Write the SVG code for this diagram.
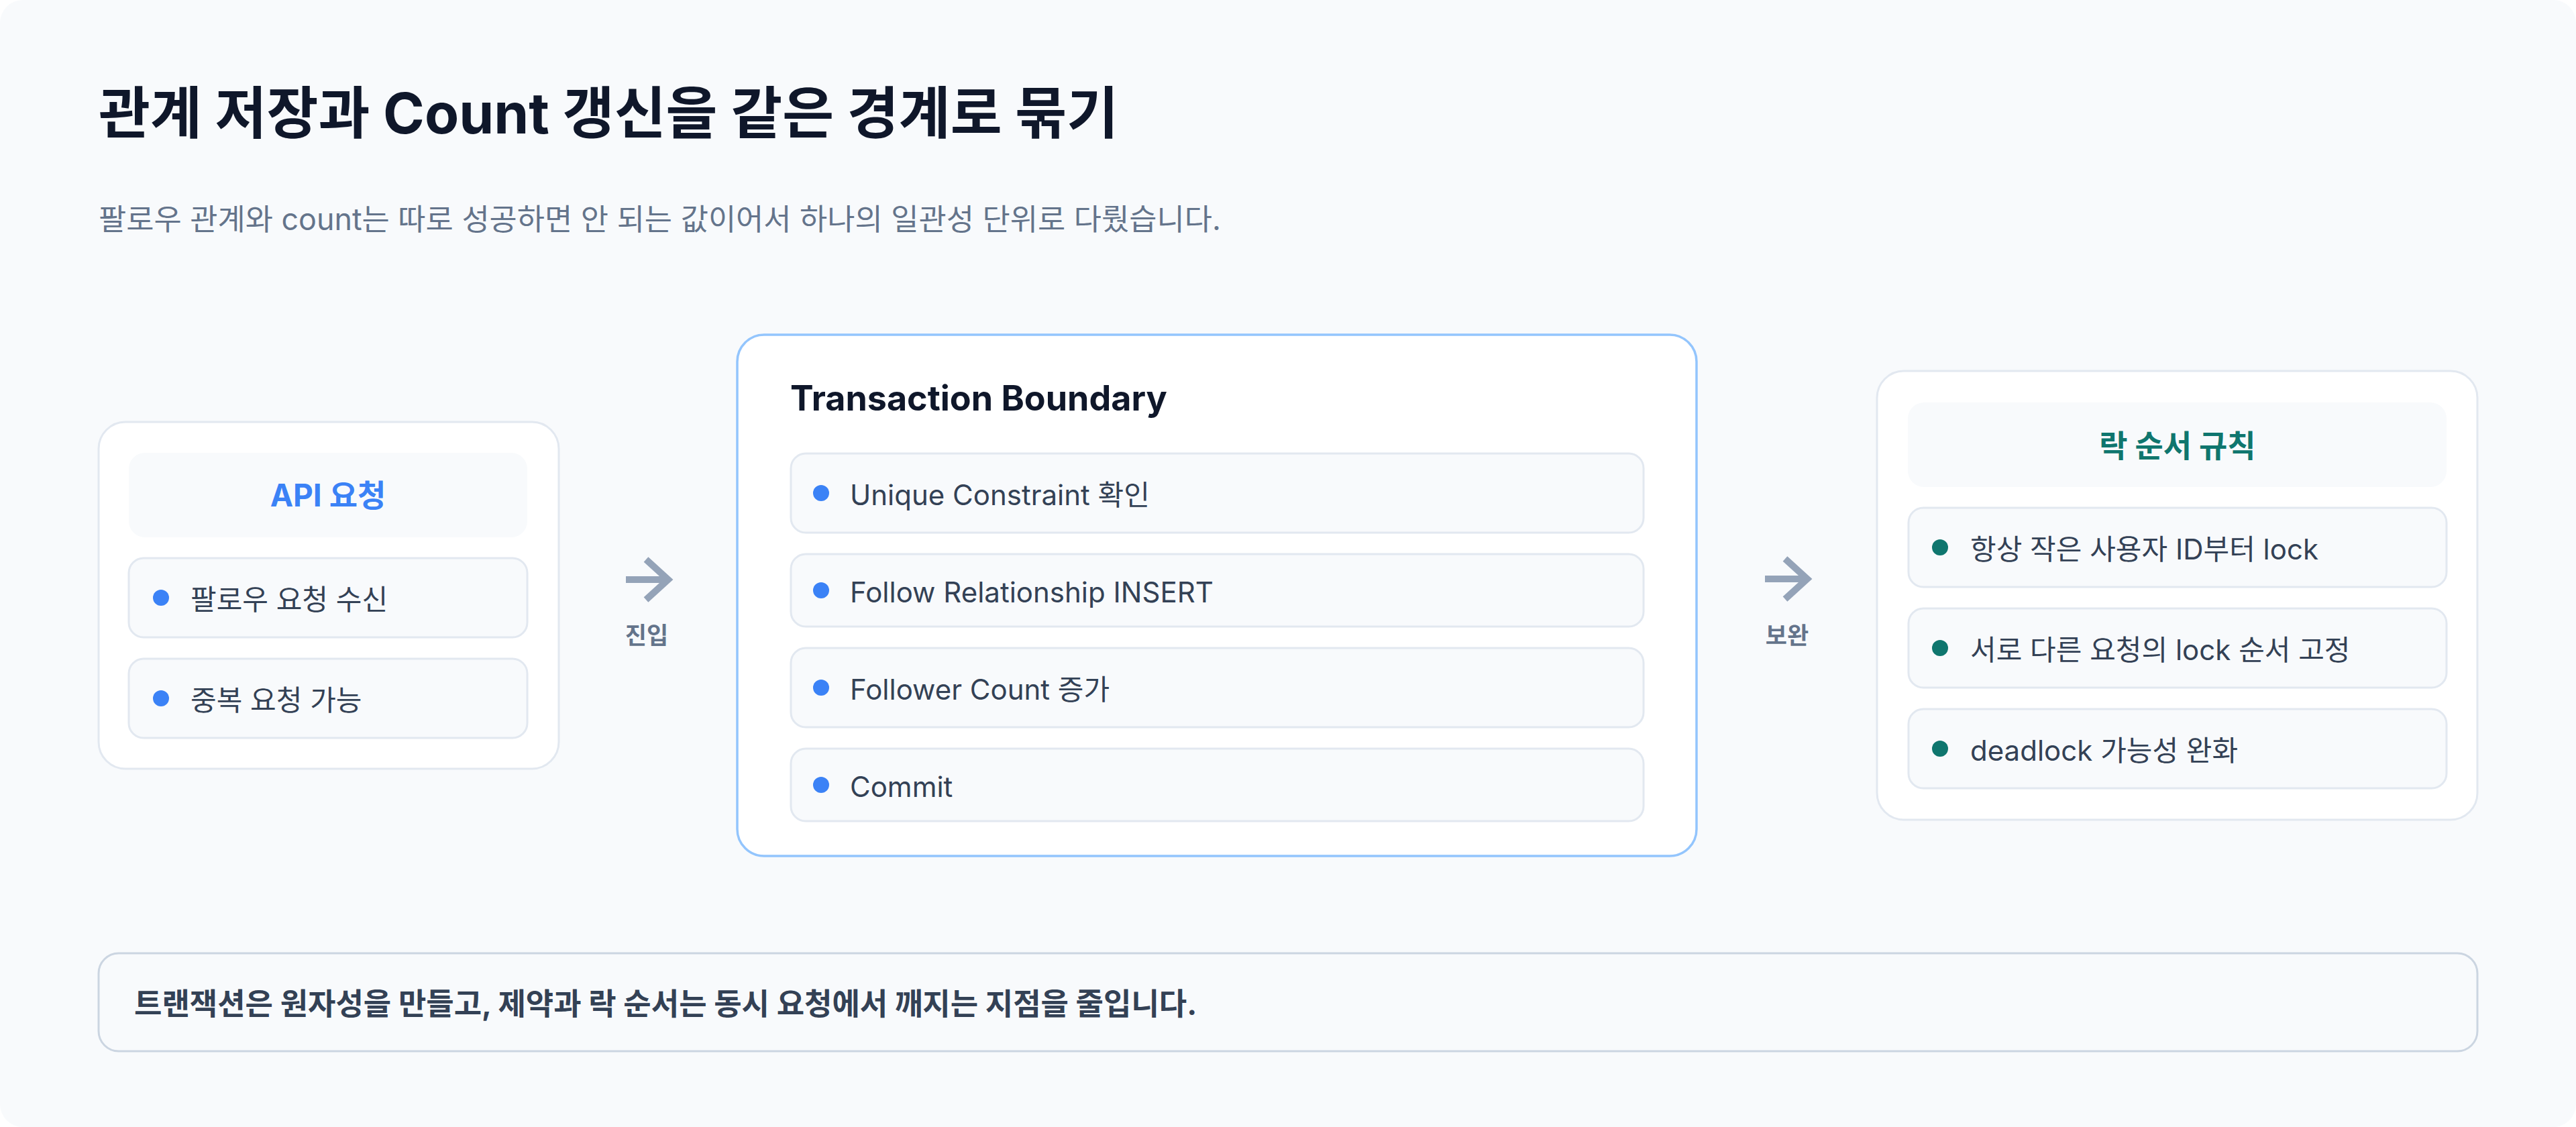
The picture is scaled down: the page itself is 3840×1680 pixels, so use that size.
<svg xmlns="http://www.w3.org/2000/svg" width="3840" height="1680" viewBox="0 0 3840 1680">
<style>
text{font-family:Inter,"Noto Sans CJK KR","Noto Sans",sans-serif}
.title{font-size:83.6px;font-weight:700;fill:#0f172a}
.sub{font-size:44.8px;fill:#64748b}
.card{fill:#ffffff;stroke:#e2e8f0;stroke-width:3}
.card-hl{fill:#ffffff;stroke:#93c5fd;stroke-width:3.5}
.head{fill:#f8fafc}
.item{fill:#f8fafc;stroke:#e2e8f0;stroke-width:3}
.it{font-size:42px;fill:#334155}
.hb{font-size:46px;font-weight:700;text-anchor:middle}
.dotb{fill:#3b82f6}
.dotg{fill:#0f766e}
.arrow{fill:none;stroke:#94a3b8;stroke-width:10}
.lbl{font-size:35px;font-weight:600;fill:#64748b;text-anchor:middle}
.foot{fill:#f8fafc;stroke:#cbd5e1;stroke-width:3}
.ft{font-size:45px;font-weight:700;fill:#334155}
</style>
<rect x="0" y="0" width="3840" height="1680" fill="#ffffff"/>
<rect x="0" y="0" width="3840" height="1680" rx="34" fill="#f8fafc"/>
<text class="title" x="147" y="199">관계 저장과 Count 갱신을 같은 경계로 묶기</text>
<text class="sub" x="147" y="343">팔로우 관계와 count는 따로 성공하면 안 되는 값이어서 하나의 일관성 단위로 다뤘습니다.</text>

<g id="node-api">
<rect class="card" x="147" y="629" width="686" height="517" rx="40"/>
<rect class="head" x="192" y="675" width="594" height="126" rx="24"/>
<text class="hb" x="489" y="755" fill="#3b82f6">API 요청</text>
<rect class="item" x="192" y="832" width="594" height="118" rx="22"/>
<circle class="dotb" cx="240" cy="891" r="12"/>
<text class="it" x="284" y="909">팔로우 요청 수신</text>
<rect class="item" x="192" y="982" width="594" height="118" rx="22"/>
<circle class="dotb" cx="240" cy="1041" r="12"/>
<text class="it" x="284" y="1059">중복 요청 가능</text>
</g>

<g id="node-tx">
<rect class="card-hl" x="1099" y="499" width="1430" height="777" rx="40"/>
<text x="1178" y="612" font-size="52" font-weight="700" fill="#0f172a">Transaction Boundary</text>
<rect class="item" x="1179" y="676" width="1271" height="118" rx="22"/>
<circle class="dotb" cx="1224" cy="735" r="12"/>
<text class="it" x="1267" y="753">Unique Constraint 확인</text>
<rect class="item" x="1179" y="826" width="1271" height="108" rx="22"/>
<circle class="dotb" cx="1224" cy="880" r="12"/>
<text class="it" x="1267" y="898">Follow Relationship INSERT</text>
<rect class="item" x="1179" y="966" width="1271" height="118" rx="22"/>
<circle class="dotb" cx="1224" cy="1025" r="12"/>
<text class="it" x="1267" y="1043">Follower Count 증가</text>
<rect class="item" x="1179" y="1116" width="1271" height="108" rx="22"/>
<circle class="dotb" cx="1224" cy="1170" r="12"/>
<text class="it" x="1267" y="1188">Commit</text>
</g>

<g id="node-lock">
<rect class="card" x="2798" y="553" width="895" height="669" rx="40"/>
<rect class="head" x="2844" y="600" width="803" height="126" rx="24"/>
<text class="hb" x="3246" y="681" fill="#0f766e">락 순서 규칙</text>
<rect class="item" x="2845" y="757" width="802" height="118" rx="22"/>
<circle class="dotg" cx="2892" cy="816" r="12"/>
<text class="it" x="2937" y="834">항상 작은 사용자 ID부터 lock</text>
<rect class="item" x="2845" y="907" width="802" height="118" rx="22"/>
<circle class="dotg" cx="2892" cy="966" r="12"/>
<text class="it" x="2937" y="984">서로 다른 요청의 lock 순서 고정</text>
<rect class="item" x="2845" y="1057" width="802" height="118" rx="22"/>
<circle class="dotg" cx="2892" cy="1116" r="12"/>
<text class="it" x="2937" y="1134">deadlock 가능성 완화</text>
</g>

<g id="connectors">
<path class="arrow" d="M933 864 H996 M963 834 L996 864 L963 894"/>
<text class="lbl" x="964" y="960">진입</text>
<path class="arrow" d="M2631 863 H2694 M2661 833 L2694 863 L2661 893"/>
<text class="lbl" x="2664" y="960">보완</text>
</g>

<g id="footer">
<rect class="foot" x="147" y="1421" width="3546" height="146" rx="30"/>
<text class="ft" x="200" y="1513">트랜잭션은 원자성을 만들고, 제약과 락 순서는 동시 요청에서 깨지는 지점을 줄입니다.</text>
</g>
</svg>
